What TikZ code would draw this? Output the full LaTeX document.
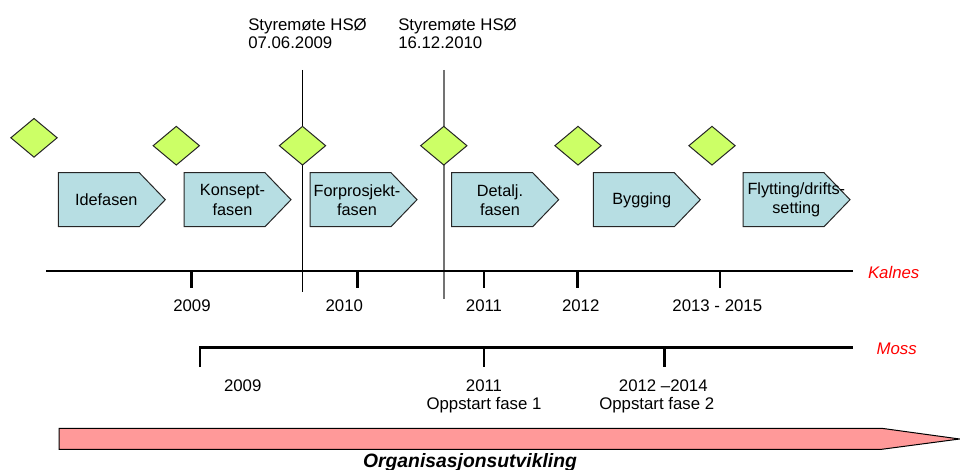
\documentclass[tikz,border=0pt]{standalone}
\usepackage{fontspec}
\setmainfont{Liberation Sans}
\usetikzlibrary{shapes.geometric}
\definecolor{msgreen}{RGB}{204,255,102}
\definecolor{phblue}{RGB}{183,222,227}
\definecolor{orgpink}{RGB}{255,153,153}
\tikzset{
 ms/.style={diamond, draw=black!85, line width=0.75pt, fill=msgreen, minimum width=35pt, minimum height=29.3pt, inner sep=0pt, aspect=1.2},
 phasebox/.style={draw=black!85, line width=0.75pt, fill=phblue},
 phtxt/.style={inner sep=0pt, align=center, font=\fontsize{12.2}{14.5}\selectfont},
 lbl/.style={inner sep=0pt, font=\fontsize{12.6}{15}\selectfont},
 toplbl/.style={inner sep=0pt, align=left, anchor=west, font=\fontsize{12.6}{14}\selectfont},
 site/.style={inner sep=0pt, text=red, font=\fontsize{12.6}{15}\selectfont\itshape},
 axisline/.style={line width=2.2pt},
 tickline/.style={line width=2pt},
 boardline/.style={line width=0.8pt},
 orgarrow/.style={draw=black, line width=0.75pt, fill=orgpink}
}
\newcommand{\phaseshape}[4]{%
  \draw[phasebox] (#1,172.7) -- ++(81,0) -- ++(26,27) -- ++(-26,27) -- ++(-81,0) -- cycle;
  \node[phtxt] (#3) at (#1+#4,199.9) {#2};}
\begin{document}
\begin{tikzpicture}[x=0.75pt,y=-0.75pt]
\useasboundingbox (0,0) rectangle (960,470);

% board meeting labels and lines
\node[toplbl] (s1) at (248,33.7) {Styremøte HSØ\\07.06.2009};
\node[toplbl] (s2) at (398,33.7) {Styremøte HSØ\\16.12.2010};
\coordinate (v1t) at (302.5,70);
\coordinate (v1b) at (302.5,291.7);
\coordinate (v2t) at (444,70);
\coordinate (v2b) at (444,299.3);
\draw[boardline, black] (v1t) -- (v1b);
\draw[boardline, black!55] (v2t) -- (v2b);

% milestones
\node[ms] (d1) at (34,137.8) {};
\node[ms] (d2) at (176.3,145.7) {};
\node[ms] (d3) at (302.5,145.7) {};
\node[ms] (d4) at (443.8,145.7) {};
\node[ms] (d5) at (578,145.7) {};
\node[ms] (d6) at (712,145.7) {};

% phases
\phaseshape{58.3}{Idefasen}{p1}{48}
\phaseshape{184}{Konsept-\\fasen}{p2}{48.5}
\phaseshape{310}{Forprosjekt-\\fasen}{p3}{47}
\phaseshape{451.7}{Detalj.\\fasen}{p4}{48.3}
\phaseshape{593.3}{Bygging}{p5}{48.4}
\phaseshape{743}{Flytting/drifts-\\setting}{p6}{53.3}

% Kalnes axis
\coordinate (ka) at (46,271);
\coordinate (kb) at (853.3,271);
\draw[axisline] (ka) -- (kb);
\foreach \x/\n in {191.7/k1,357.3/k2,484/k3,577.3/k4,720/k5}{
  \coordinate (\n t) at (\x,271);
  \coordinate (\n b) at (\x,288.5);
  \draw[tickline] (\n t) -- (\n b);
}
\node[lbl] (l1) at (192,306) {2009};
\node[lbl] (l2) at (344.3,306) {2010};
\node[lbl] (l3) at (484,306) {2011};
\node[lbl] (l4) at (580.7,306) {2012};
\node[lbl] (l5) at (717.3,306) {2013 - 2015};
\node[site] (kal) at (893.7,272) {Kalnes};

% Moss axis
\coordinate (m0) at (200,367);
\coordinate (ma) at (200,347.3);
\coordinate (mb) at (853.3,347.3);
\draw[axisline] (m0) -- (ma) -- (mb);
\foreach \x/\n in {484/m1,664.3/m2}{
  \coordinate (\n t) at (\x,347.3);
  \coordinate (\n b) at (\x,367);
  \draw[tickline] (\n t) -- (\n b);
}
\node[lbl] (n1) at (242.7,385.3) {2009};
\node[lbl] (n2) at (484,385.3) {2011};
\node[lbl] (n3) at (484,405.3) {Oppstart fase 1};
\node[lbl] (n4) at (663.3,385.3) {2012 –2014};
\node[lbl] (n5) at (656.7,405.3) {Oppstart fase 2};
\node[site] (mos) at (896.7,349) {Moss};

% organisation arrow
\draw[orgarrow] (59,428.3) -- (881.7,428.3) -- (959.6,439) -- (881.7,449.3) -- (59,449.3) -- cycle;
\node[inner sep=0pt, font=\fontsize{14.5}{17}\selectfont\bfseries\itshape] (org) at (470,462) {Organisasjonsutvikling};
\end{tikzpicture}
\end{document}
